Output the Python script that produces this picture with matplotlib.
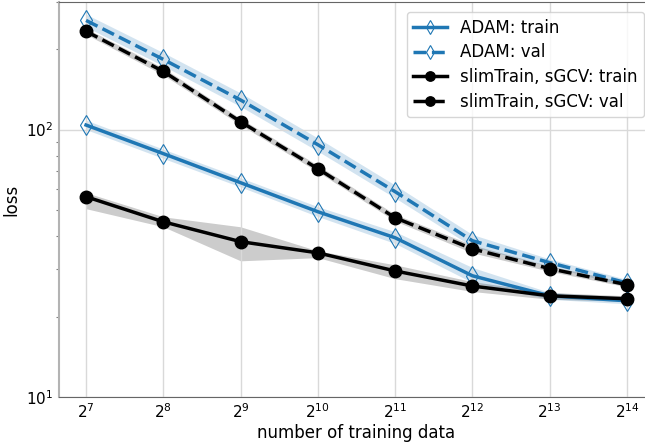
import numpy as np
import matplotlib
matplotlib.use('Agg')
import matplotlib.pyplot as plt

# number of training data (powers of two)
n_train = [2**k for k in range(7, 15)]

# ADAM
adam_train = [104.0, 81.3, 63.3, 49.3, 39.4, 28.4, 23.9, 22.9]
adam_train_lo = [100.0, 78.0, 61.0, 47.3, 37.5, 26.8, 23.2, 22.3]
adam_train_hi = [108.5, 84.5, 66.0, 51.5, 41.5, 30.5, 24.6, 23.6]
adam_val = [256.0, 183.0, 129.0, 87.8, 58.6, 38.4, 31.8, 26.7]
adam_val_lo = [242.0, 173.0, 122.0, 83.0, 55.5, 36.5, 30.8, 25.9]
adam_val_hi = [270.0, 194.0, 137.0, 93.0, 62.0, 40.5, 32.8, 27.5]

# slimTrain, sGCV
slim_train = [56.1, 45.2, 38.1, 34.6, 29.6, 26.0, 23.9, 23.3]
slim_train_lo = [50.6, 43.3, 32.3, 33.2, 27.7, 24.8, 23.2, 22.8]
slim_train_hi = [58.1, 47.2, 43.3, 35.2, 31.2, 27.0, 24.6, 23.9]
slim_val = [233.0, 165.0, 107.0, 71.4, 46.8, 35.8, 30.2, 26.3]
slim_val_lo = [227.0, 160.0, 104.0, 69.5, 45.5, 34.6, 29.5, 25.8]
slim_val_hi = [239.0, 170.0, 110.0, 73.5, 48.2, 37.0, 30.9, 26.8]

fig = plt.figure(figsize=(6.45, 4.42), dpi=100)
# axes runs a little past the right edge of the picture (cropped like the original)
ax = fig.add_axes([59/645, 1 - 397/442, (654 - 59)/645, (397 - 2)/442])

blue = 'tab:blue'
ax.fill_between(n_train, adam_train_lo, adam_train_hi, color=blue, alpha=0.2, lw=0)
ax.fill_between(n_train, adam_val_lo, adam_val_hi, color=blue, alpha=0.2, lw=0)
ax.fill_between(n_train, slim_train_lo, slim_train_hi, color='k', alpha=0.2, lw=0)
ax.fill_between(n_train, slim_val_lo, slim_val_hi, color='k', alpha=0.2, lw=0)

ax.plot(n_train, adam_train, '-', color=blue, lw=2.5, marker='d', ms=10,
        mfc='none', mec=blue, mew=0.8, label='ADAM: train')
ax.plot(n_train, adam_val, '--', color=blue, lw=2.5, marker='d', ms=10,
        mfc='none', mec=blue, mew=0.8, label='ADAM: val')
ax.plot(n_train, slim_train, '-', color='k', lw=2.5, marker='o', ms=9,
        label='slimTrain, sGCV: train')
ax.plot(n_train, slim_val, '--', color='k', lw=2.5, marker='o', ms=9,
        label='slimTrain, sGCV: val')

ax.set_xscale('log', base=2)
ax.set_yscale('log')
ax.set_xticks(n_train)
ax.set_xlim(2**6.65, 2**14.35)
ax.set_ylim(10, 300)
ax.grid(True, which='major', color='0.85', lw=1)
ax.tick_params(which='major', labelsize=11, length=0, pad=4)
ax.tick_params(which='minor', length=2.5, color='0.5', width=0.8)
ax.tick_params(axis='x', which='minor', length=0)
for s in ax.spines.values():
    s.set_color('0.4')
ax.spines['left'].set_color('0.7')
ax.spines['left'].set_linewidth(1.5)
ax.set_xlabel('number of training data', fontsize=12, labelpad=2)
ax.set_ylabel('loss', fontsize=12, labelpad=4)
ax.legend(loc='upper right', fontsize=12, markerscale=0.75,
          borderaxespad=0.6, labelspacing=0.4)

fig.savefig('out.png', dpi=100)
